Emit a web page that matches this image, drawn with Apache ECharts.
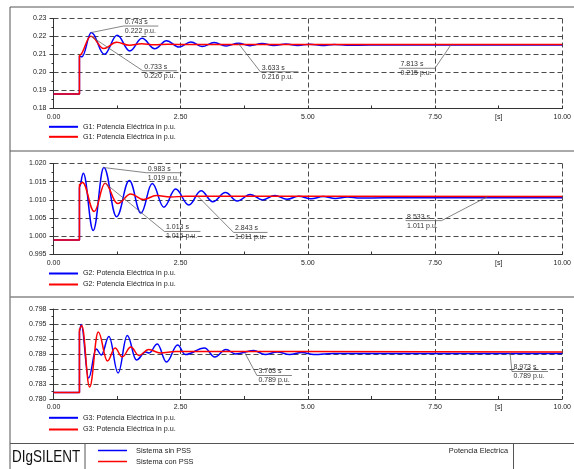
<!DOCTYPE html>
<html>
<head>
<meta charset="utf-8">
<script src="https://cdn.jsdelivr.net/npm/echarts@6/dist/echarts.min.js"></script>
<style>
  html, body { margin: 0; padding: 0; background: #fff; }
  #chart { width: 574px; height: 469px; }
</style>
</head>
<body>
<div id="chart"></div>
<script>
// [tiempo s, potencia p.u.] - extremos de la oscilacion
const g1SinPss = [[0, 0.1880], [0.51, 0.1880], [0.51, 0.2090], [0.56, 0.2088], [0.743, 0.2222], [1.00, 0.2101],
  [1.25, 0.2207], [1.50, 0.2120], [1.74, 0.2190], [1.99, 0.2132], [2.22, 0.2177], [2.47, 0.2141], [2.70, 0.2170],
  [2.92, 0.2144], [3.16, 0.2166], [3.39, 0.2147], [3.633, 0.2163], [3.86, 0.2149], [4.10, 0.2161], [4.33, 0.2150],
  [4.57, 0.2159], [4.80, 0.2150], [5.04, 0.2157], [5.28, 0.2150], [5.52, 0.2156], [5.76, 0.2151], [6.2, 0.2153], [10, 0.2153]];
const g1ConPss = [[0, 0.1880], [0.51, 0.1880], [0.51, 0.2095], [0.733, 0.2202], [0.99, 0.2133], [1.24, 0.2168],
  [1.49, 0.2151], [1.73, 0.2160], [1.98, 0.2154], [2.25, 0.2157], [2.6, 0.2155], [10, 0.2155]];

const g2SinPss = [[0, 0.9990], [0.51, 0.9990], [0.51, 1.0135], [0.585, 1.0173], [0.78, 1.0016], [0.99, 1.0189],
  [1.24, 1.0054], [1.49, 1.0153], [1.72, 1.0064], [1.94, 1.0145], [2.17, 1.0080], [2.40, 1.0130], [2.66, 1.0086],
  [2.90, 1.0125], [3.13, 1.0095], [3.38, 1.0120], [3.61, 1.0097], [3.87, 1.0115], [4.11, 1.0100], [4.35, 1.0112],
  [4.59, 1.0102], [4.82, 1.0110], [5.06, 1.0103], [5.30, 1.0109], [5.54, 1.0104], [5.78, 1.0108], [6.02, 1.0105],
  [6.5, 1.0106], [10, 1.0106]];
const g2ConPss = [[0, 0.9990], [0.51, 0.9990], [0.51, 1.0142], [0.57, 1.0148], [0.80, 1.0068], [1.013, 1.0146],
  [1.26, 1.0090], [1.52, 1.0116], [1.77, 1.0101], [2.02, 1.0112], [2.3, 1.0108], [2.6, 1.0110], [10, 1.0109]];

const g3SinPss = [[0, 0.7813], [0.51, 0.7813], [0.51, 0.7935], [0.545, 0.7949], [0.69, 0.7842], [0.84, 0.7900],
  [0.94, 0.7888], [1.09, 0.7925], [1.27, 0.7852], [1.45, 0.7927], [1.63, 0.7878], [1.81, 0.7894], [1.88, 0.7892],
  [2.04, 0.7910], [2.22, 0.7874], [2.44, 0.7908], [2.59, 0.7889], [2.97, 0.7902], [3.17, 0.7884], [3.39, 0.7899],
  [3.58, 0.7890], [3.93, 0.7897], [4.16, 0.7889], [4.40, 0.7894], [4.64, 0.7889], [4.88, 0.7893], [5.12, 0.7889],
  [5.5, 0.7891], [10, 0.7891]];
const g3ConPss = [[0, 0.7813], [0.51, 0.7813], [0.51, 0.7940], [0.555, 0.7947], [0.71, 0.7824], [0.88, 0.7934],
  [1.06, 0.7876], [1.21, 0.7902], [1.35, 0.7884], [1.52, 0.7904], [1.68, 0.7887], [1.87, 0.7899], [2.1, 0.7892],
  [2.4, 0.7895], [10, 0.7894]];

// escalas de los ejes
const xTicks = [0, 2.5, 5, 7.5, 10];
const yMin = [0.18, 0.995, 0.780];
const yMax = [0.23, 1.020, 0.798];
const yStep = [0.01, 0.005, 0.003];
const yDecimals = [2, 3, 3];

// cursores (tiempo, valor) y panel
const noteT = [0.743, 0.733, 3.633, 7.813, 0.983, 1.013, 2.843, 8.533, 3.763, 8.973];
const noteV = [0.2222, 0.2202, 0.2162, 0.2154, 1.0189, 1.0146, 1.0109, 1.0109, 0.7892, 0.7892];
const notePanel = [0, 0, 0, 0, 1, 1, 1, 1, 2, 2];

const legendText = ['G1: Potencia Eléctrica in p.u.', 'G2: Potencia Eléctrica in p.u.', 'G3: Potencia Eléctrica in p.u.'];

// ---- layout ----
const FONT = '"Liberation Sans", Arial, sans-serif';
const BLUE = '#0000ff';
const RED = '#ff0000';
const grids = [
  { left: 53.5, right: 6.5, top: 18.5, height: 90 },
  { left: 53.5, right: 6.5, top: 163.5, height: 91 },
  { left: 53.5, right: 6.5, top: 309, height: 90 }
];
const legendY = [[127.3, 137.3], [274, 285], [418.3, 430]];
// desplazamiento del rotulo de cada cursor respecto al punto (px)
const noteLayout = [
  { dx: 32, dy: -6.5, len: 35 }, { dx: 52, dy: 34.6, len: 34 }, { dx: 22, dy: 28.4, len: 38 }, { dx: -16, dy: 23.5, len: -36 },
  { dx: 42.7, dy: 5.2, len: 36 }, { dx: 59.4, dy: 48.3, len: 36 }, { dx: 35.4, dy: 35.8, len: 34 }, { dx: -46, dy: 24, len: -36 },
  { dx: 12, dy: 22.5, len: 35 }, { dx: 2, dy: 18.5, len: 36 }
];

const curves = [[g1SinPss, g1ConPss], [g2SinPss, g2ConPss], [g3SinPss, g3ConPss]];
const dashed = { color: '#4a4a4a', type: [5, 3], width: 1 };

const xAxis = [];
const yAxis = [];
const series = [];
const legend = [];

for (let i = 0; i < 3; i++) {
  xAxis.push({
    type: 'value', gridIndex: i, min: 0, max: 10, interval: xTicks[1] - xTicks[0],
    axisLine: { lineStyle: { color: '#333', width: 1 } },
    axisTick: { inside: true, length: 3, lineStyle: { color: '#333' } },
    minorTick: { show: true, splitNumber: 2, length: 3, lineStyle: { color: '#333' } },
    axisLabel: { fontSize: 7, color: '#222', fontFamily: FONT, margin: 5, formatter: v => v.toFixed(2) },
    splitLine: { show: true, lineStyle: dashed }
  });
  // eje auxiliar solo para la unidad [s]
  xAxis.push({
    type: 'value', gridIndex: i, min: 0, max: 10, interval: 1.25, position: 'bottom',
    axisLine: { show: false }, axisTick: { show: false }, splitLine: { show: false },
    axisLabel: { fontSize: 7, color: '#222', fontFamily: FONT, margin: 5, formatter: v => (v === 8.75 ? '[s]' : '') }
  });
  yAxis.push({
    type: 'value', gridIndex: i, min: yMin[i], max: yMax[i], interval: yStep[i],
    axisLine: { show: true, lineStyle: { color: '#333', width: 1 } },
    axisTick: { show: true, length: 4, lineStyle: { color: '#333' } },
    minorTick: { show: true, splitNumber: 2, length: 2, lineStyle: { color: '#333' } },
    axisLabel: { fontSize: 7, color: '#222', fontFamily: FONT, margin: 7, formatter: v => v.toFixed(yDecimals[i]) },
    splitLine: { show: true, lineStyle: dashed }
  });

  const names = ['G' + (i + 1) + ' sin PSS', 'G' + (i + 1) + ' con PSS'];
  [BLUE, RED].forEach((color, k) => {
    series.push({
      name: names[k], type: 'line', xAxisIndex: 2 * i, yAxisIndex: i,
      data: curves[i][k], showSymbol: false, symbol: 'none',
      smooth: 0.4, smoothMonotone: 'x',
      lineStyle: { color: color, width: 1.5 }, itemStyle: { color: color },
      z: 3 + k
    });
    legend.push({
      data: [names[k]], left: 49, top: legendY[i][k] - 4, orient: 'vertical',
      icon: 'rect', itemWidth: 29, itemHeight: 2, padding: 0, selectedMode: false,
      textStyle: { fontSize: 7.2, color: '#222', fontFamily: FONT },
      formatter: () => legendText[i]
    });
  });

  // cursores del panel
  const idx = [];
  notePanel.forEach((p, j) => { if (p === i) idx.push(j); });
  series.push({
    type: 'custom', xAxisIndex: 2 * i, yAxisIndex: i, silent: true, z: 10,
    data: idx.map(j => [noteT[j], noteV[j], j]),
    renderItem: function (params, api) {
      const t = api.value(0), v = api.value(1), j = api.value(2);
      const lay = noteLayout[j];
      const p = api.coord([t, v]);
      const ex = p[0] + lay.dx, ey = p[1] + lay.dy;
      const x2 = ex + lay.len;
      const tx = Math.min(ex, x2) + 1.5;
      const ls = { stroke: '#666', lineWidth: 0.8 };
      return {
        type: 'group',
        children: [
          { type: 'line', shape: { x1: p[0], y1: p[1], x2: ex, y2: ey }, style: ls },
          { type: 'line', shape: { x1: ex, y1: ey, x2: x2, y2: ey }, style: ls },
          { type: 'text', x: tx, y: ey - 0.5, style: { text: t.toFixed(3) + ' s', fill: '#333', font: '7px ' + FONT, align: 'left', verticalAlign: 'bottom' } },
          { type: 'text', x: tx, y: ey + 1.5, style: { text: v.toFixed(3) + ' p.u.', fill: '#333', font: '7px ' + FONT, align: 'left', verticalAlign: 'top' } }
        ]
      };
    }
  });
}

// leyenda del cajetin
['Sistema sin PSS', 'Sistema con PSS'].forEach((txt, k) => {
  legend.push({
    data: ['G1 ' + (k === 0 ? 'sin' : 'con') + ' PSS'], left: 98, top: [451, 462][k] - 4,
    icon: 'rect', itemWidth: 29, itemHeight: 1.5, padding: 0, selectedMode: false,
    textStyle: { fontSize: 7.4, color: '#222', fontFamily: FONT, padding: [0, 0, 0, 4] },
    formatter: () => txt
  });
});

const frame = { stroke: '#555', lineWidth: 1 };
const graphic = [
  { type: 'line', shape: { x1: 10, y1: 7, x2: 574, y2: 7 }, style: frame },
  { type: 'line', shape: { x1: 10, y1: 7, x2: 10, y2: 469 }, style: frame },
  { type: 'line', shape: { x1: 10, y1: 151, x2: 574, y2: 151 }, style: frame },
  { type: 'line', shape: { x1: 10, y1: 297, x2: 574, y2: 297 }, style: { stroke: '#888', lineWidth: 1.5 } },
  { type: 'line', shape: { x1: 10, y1: 443.5, x2: 574, y2: 443.5 }, style: frame },
  { type: 'line', shape: { x1: 85, y1: 443.5, x2: 85, y2: 469 }, style: frame },
  { type: 'line', shape: { x1: 513.5, y1: 443.5, x2: 513.5, y2: 469 }, style: frame },
  { type: 'text', x: 12, y: 458, scaleY: 1.2, style: { text: 'DIgSILENT', fill: '#111', font: '13.5px ' + FONT, verticalAlign: 'middle' } },
  { type: 'text', x: 508, y: 451, style: { text: 'Potencia Electrica', fill: '#222', font: '7.4px ' + FONT, align: 'right', verticalAlign: 'middle' } }
];

const chart = echarts.init(document.getElementById('chart'));
chart.setOption({
  animation: false,
  backgroundColor: '#fff',
  grid: grids,
  xAxis: xAxis,
  yAxis: yAxis,
  legend: legend,
  graphic: graphic,
  series: series
});
</script>
</body>
</html>
